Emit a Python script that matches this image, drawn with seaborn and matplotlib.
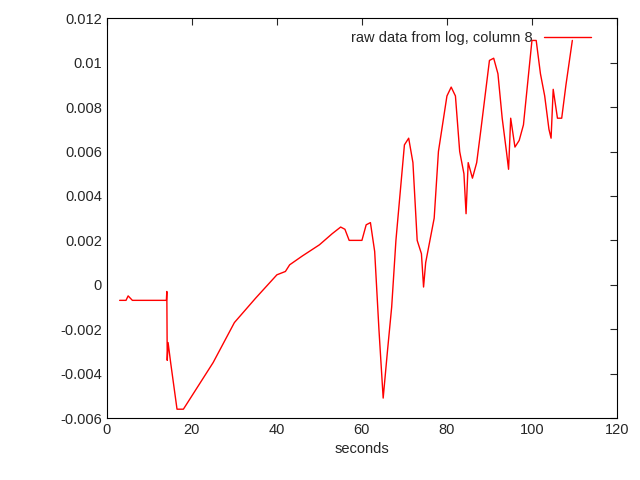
import pandas as pd
import seaborn as sns
import matplotlib
matplotlib.use('Agg')
import matplotlib.pyplot as plt

seconds = [3, 4.5, 5, 5.5, 6, 14, 14.1, 14.2, 14.4, 15, 16.5, 18, 20, 25, 30, 35, 40, 42, 43, 46,
           50, 53, 55, 56, 57, 60, 61, 62, 63, 64, 65, 66, 67, 68, 70, 71, 72, 73, 74, 74.5,
           75, 76, 77, 78, 80, 81, 82, 83, 84, 84.5, 85, 86, 87, 88, 90, 91, 92, 93, 94, 94.5,
           95, 96, 97, 98, 100, 101, 102, 103, 104, 104.5, 105, 106, 107, 108, 109.5]
column8 = [-0.0007, -0.0007, -0.0005, -0.0006, -0.0007, -0.0007, -0.0003, -0.0034, -0.0026,
           -0.0035, -0.0056, -0.0056, -0.005, -0.0035, -0.0017, -0.0006, 0.00045, 0.0006,
           0.0009, 0.0013, 0.0018, 0.0023, 0.0026, 0.0025, 0.002, 0.002, 0.0027, 0.0028,
           0.0015, -0.002, -0.0051, -0.003, -0.001, 0.002, 0.0063, 0.0066, 0.0055, 0.002,
           0.0014, -0.0001, 0.001, 0.002, 0.003, 0.006, 0.0085, 0.0089, 0.0085, 0.006,
           0.005, 0.0032, 0.0055, 0.0048, 0.0055, 0.007, 0.0101, 0.0102, 0.0095, 0.0075,
           0.006, 0.0052, 0.0075, 0.0062, 0.0065, 0.0072, 0.011, 0.011, 0.0095, 0.0085,
           0.007, 0.0066, 0.0088, 0.0075, 0.0075, 0.009, 0.011]

df = pd.DataFrame({'seconds': seconds, 'col8': column8})

sns.set_style('white')
plt.rcParams['font.family'] = ['Liberation Sans', 'DejaVu Sans']
plt.rcParams['font.size'] = 10.5
fig, ax = plt.subplots(figsize=(6.4, 4.8), dpi=100)
fig.subplots_adjust(left=0.167, right=0.964, top=0.962, bottom=0.129)
sns.lineplot(data=df, x='seconds', y='col8', estimator=None, sort=False,
             color='red', linewidth=1, label='raw data from log, column 8', ax=ax)
ax.set_xlim(0, 120)
ax.set_ylim(-0.006, 0.012)
ax.set_xticks(range(0, 121, 20))
ax.set_yticks([-0.006, -0.004, -0.002, 0, 0.002, 0.004, 0.006, 0.008, 0.01, 0.012])
ax.set_yticklabels(['-0.006', '-0.004', '-0.002', '0', '0.002', '0.004', '0.006',
                    '0.008', '0.01', '0.012'])
ax.set_xlabel('seconds')
ax.set_ylabel('')
ax.tick_params(direction='in', top=True, right=True, length=5)
for s in ax.spines.values():
    s.set_color('black')
    s.set_linewidth(0.8)
ax.legend(loc='upper right', bbox_to_anchor=(0.975, 1.0), frameon=False,
          markerfirst=False, handlelength=3.2)
plt.savefig('out.png')
